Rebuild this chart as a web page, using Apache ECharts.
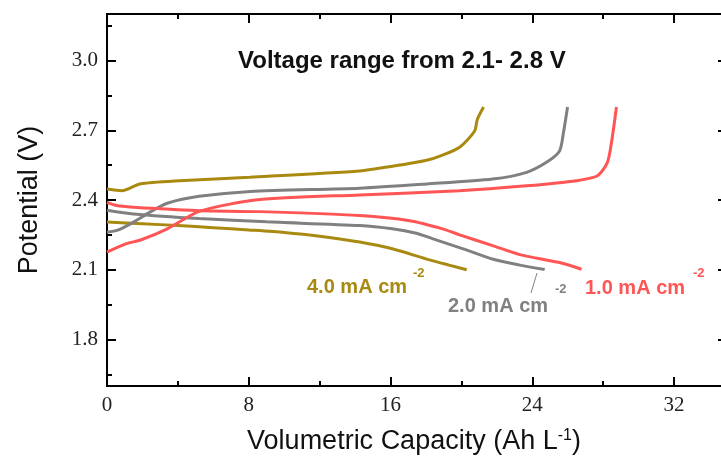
<!DOCTYPE html>
<html>
<head>
<meta charset="utf-8">
<script src="https://cdn.jsdelivr.net/npm/echarts@6/dist/echarts.min.js"></script>
<style>
  html, body { margin: 0; padding: 0; background: #fff; }
  #chart { width: 721px; height: 461px; }
</style>
</head>
<body>
<div id="chart"></div>
<script>
// capacity (Ah/L) , potential (V) pairs
const charge4 = [[0, 2.447], [0.85, 2.44], [1.86, 2.469], [4.1, 2.483], [8.06, 2.498], [14.26, 2.525], [16.1, 2.545],
  [18.04, 2.571], [18.94, 2.593], [19.9, 2.627], [20.74, 2.696], [20.9, 2.747], [21.25, 2.8]];
const discharge4 = [[0, 2.305], [2, 2.298], [4, 2.29], [6, 2.281], [8, 2.271], [10, 2.26], [12, 2.244],
  [14.26, 2.219], [16.1, 2.19], [18, 2.147], [19.3, 2.12], [20.3, 2.1]];

const charge2 = [[0, 2.261], [0.6, 2.27], [1.5, 2.305], [2.4, 2.347], [3.4, 2.386], [5.2, 2.416], [8.1, 2.437],
  [14.26, 2.451], [18.04, 2.469], [21.76, 2.49], [23.68, 2.519], [24.8, 2.562], [25.54, 2.611], [25.76, 2.69], [25.99, 2.8]];
const discharge2 = [[0, 2.356], [1.5, 2.34], [5.2, 2.32], [9, 2.306], [14.26, 2.29], [16.1, 2.276], [17.4, 2.258],
  [18.4, 2.233], [20.1, 2.19], [21.8, 2.145], [23.3, 2.12], [24.7, 2.101]];

const charge1 = [[0, 2.176], [1.1, 2.212], [1.9, 2.228], [3.4, 2.276], [5.24, 2.352], [8.5, 2.401], [14.26, 2.422],
  [19.9, 2.44], [23.68, 2.461], [26.5, 2.483], [27.68, 2.504], [28.24, 2.562], [28.47, 2.647], [28.75, 2.8]];
const discharge1 = [[0, 2.39], [0.56, 2.376], [1.47, 2.369], [3.38, 2.361], [5.24, 2.354], [8.62, 2.35], [14.26, 2.333],
  [17.08, 2.311], [18.94, 2.276], [19.9, 2.25], [21.76, 2.204], [23.3, 2.165], [25.54, 2.131], [26.78, 2.102]];

// ticks
const xMajor = [0, 8, 16, 24, 32];
const xMinor = [4, 12, 20, 28];
const yMajor = [1.8, 2.1, 2.4, 2.7, 3.0];
const yMinor = [1.65, 1.95, 2.25, 2.55, 2.85, 3.15];

const GOLD = "#A98A10";
const GRAY = "#808080";
const RED = "#FF5555";

const serif = "Liberation Serif";
const sans = "Liberation Sans";

const chart = echarts.init(document.getElementById("chart"));

// one frame side = two axes (long ticks with labels, short ticks only)
function xSide(pos, ticks, len, withLabels) {
  return {
    type: "value", position: pos, min: 0, max: 34.65,
    axisLine: { show: true, lineStyle: { color: "#000", width: 2 } },
    axisTick: { show: true, inside: true, length: len, customValues: ticks, lineStyle: { color: "#000", width: 2 } },
    axisLabel: withLabels
      ? { show: true, customValues: xMajor, fontFamily: serif, fontSize: 21, color: "#222", margin: 9 }
      : { show: false },
    splitLine: { show: false },
  };
}
function ySide(pos, ticks, len, withLabels) {
  return {
    type: "value", position: pos, min: 1.6, max: 3.2,
    axisLine: { show: pos === "left", onZero: false, lineStyle: { color: "#000", width: 2 } },
    axisTick: { show: true, inside: true, length: len, customValues: ticks, lineStyle: { color: "#000", width: 2 } },
    axisLabel: withLabels
      ? { show: true, customValues: yMajor, fontFamily: serif, fontSize: 21, color: "#222", margin: 9,
          formatter: (v) => v.toFixed(1) }
      : { show: false },
    splitLine: { show: false },
  };
}

const xMain = xSide("bottom", xMajor, 9, true);
xMain.name = "{a|Volumetric Capacity (Ah L}{s|-1}{a|)}";
xMain.nameLocation = "middle";
xMain.nameGap = 42;
xMain.nameTextStyle = {
  rich: {
    a: { fontFamily: sans, fontSize: 27, color: "#111" },
    s: { fontFamily: sans, fontSize: 16, color: "#111", verticalAlign: "top", padding: [0, 0, 10, 0] },
  },
};

const yMain = ySide("left", yMajor, 9, true);
yMain.name = "Potential (V)";
yMain.nameLocation = "middle";
yMain.nameGap = 64;
yMain.nameTextStyle = { fontFamily: sans, fontSize: 27, color: "#111" };

function curve(data, color) {
  return {
    type: "line", data: data, xAxisIndex: 0, yAxisIndex: 0,
    showSymbol: false, smooth: 0.25, silent: true,
    lineStyle: { color: color, width: 3 },
  };
}

chart.setOption({
  animation: false,
  grid: { left: 107, top: 14, right: 0, bottom: 75, containLabel: false },
  xAxis: [
    xMain,
    xSide("bottom", xMinor, 5, false),
    xSide("top", xMajor, 9, false),
    xSide("top", xMinor, 5, false),
  ],
  yAxis: [
    yMain,
    ySide("left", yMinor, 5, false),
    // the right frame line sits just past the picture edge: only tick stubs show
    ySide("right", yMajor, 3, false),
  ],
  series: [
    curve(discharge4, GOLD),
    curve(charge4, GOLD),
    curve(discharge2, GRAY),
    curve(charge2, GRAY),
    curve(discharge1, RED),
    curve(charge1, RED),
  ],
  graphic: [
    { type: "text", left: 238, top: 49,
      style: { text: "Voltage range from 2.1- 2.8 V", font: "bold 24px 'Liberation Sans'", fill: "#111" } },
    // current density labels
    { type: "text", x: 307, y: 287, style: { text: "4.0 mA cm", font: "bold 20px 'Liberation Sans'", fill: GOLD, textVerticalAlign: "middle" } },
    { type: "text", x: 413, y: 273, style: { text: "-2", font: "bold 13px 'Liberation Sans'", fill: GOLD, textVerticalAlign: "middle" } },
    { type: "text", x: 448, y: 306, style: { text: "2.0 mA cm", font: "bold 20px 'Liberation Sans'", fill: GRAY, textVerticalAlign: "middle" } },
    { type: "text", x: 555, y: 289, style: { text: "-2", font: "bold 13px 'Liberation Sans'", fill: GRAY, textVerticalAlign: "middle" } },
    { type: "text", x: 585, y: 288, style: { text: "1.0 mA cm", font: "bold 20px 'Liberation Sans'", fill: RED, textVerticalAlign: "middle" } },
    { type: "text", x: 693, y: 273, style: { text: "-2", font: "bold 13px 'Liberation Sans'", fill: RED, textVerticalAlign: "middle" } },
    { type: "line", shape: { x1: 537, y1: 273, x2: 531, y2: 293 }, style: { stroke: GRAY, lineWidth: 1 } },
  ],
});
</script>
</body>
</html>
